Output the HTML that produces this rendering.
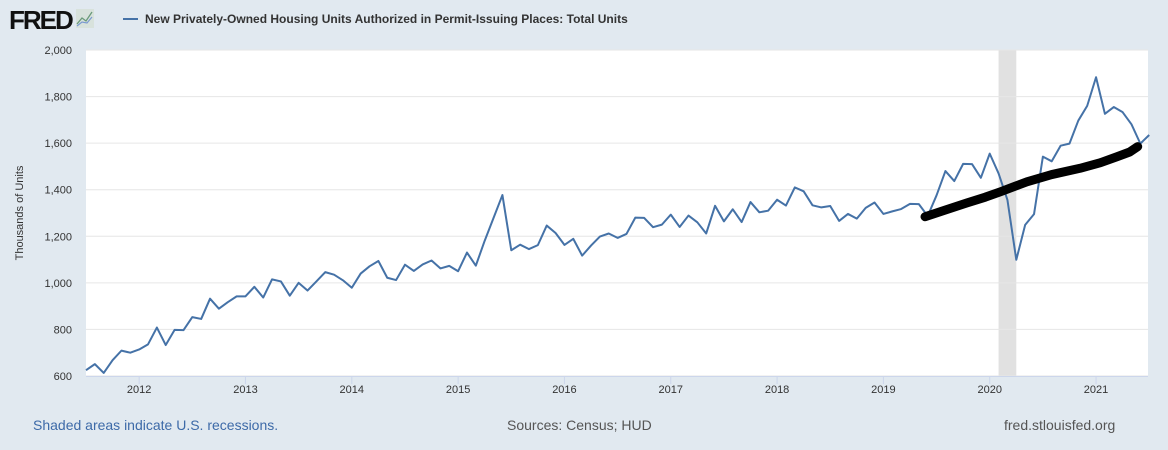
<!DOCTYPE html>
<html><head><meta charset="utf-8"><style>
body{margin:0;width:1168px;height:450px;background:#e1e9f0;font-family:"Liberation Sans",sans-serif;position:relative;overflow:hidden}
.t{position:absolute;white-space:nowrap}
</style></head><body>
<div class="t" style="left:9px;top:5px;font-size:26px;font-weight:bold;letter-spacing:-2px;color:#111">FRED</div>
<svg class="t" style="left:76px;top:9px" width="18" height="19"><rect x="0" y="0" width="18" height="19" fill="#d8e2dc"/><polyline points="1,15 6,9 10,12 16,3" fill="none" stroke="#6a9a7a" stroke-width="1.3"/><polyline points="1,17 6,13 11,14 16,8" fill="none" stroke="#7a9ad0" stroke-width="1.2"/></svg>
<div class="t" style="left:123px;top:18px;width:15px;height:2px;background:#4572a7"></div>
<div class="t" style="left:145px;top:12px;font-size:12px;font-weight:bold;color:#333">New Privately-Owned Housing Units Authorized in Permit-Issuing Places: Total Units</div>
<svg id="c" class="t" style="left:0;top:0" width="1168" height="450"></svg>
<div class="t" style="left:33px;top:417px;font-size:14px;color:#3d6aa8">Shaded areas indicate U.S. recessions.</div>
<div class="t" style="left:507px;top:417px;font-size:14px;color:#555">Sources: Census; HUD</div>
<div class="t" style="left:1004px;top:417px;font-size:14px;color:#555">fred.stlouisfed.org</div>
<script>
const yTicks=[600,800,1000,1200,1400,1600,1800,2000];
const xYears=[2012,2013,2014,2015,2016,2017,2018,2019,2020,2021];
const values=[625,651,613,668,709,700,714,736,808,733,798,797,853,845,932,889,917,942,942,983,937,1015,1006,945,1000,967,1006,1046,1035,1011,979,1040,1071,1094,1022,1012,1078,1051,1079,1096,1062,1073,1050,1130,1074,1181,1279,1377,1140,1164,1145,1162,1246,1214,1163,1189,1117,1160,1199,1212,1193,1210,1280,1279,1239,1250,1293,1240,1289,1260,1212,1331,1264,1316,1261,1347,1303,1310,1357,1332,1410,1393,1333,1324,1330,1266,1296,1276,1322,1345,1296,1307,1317,1339,1338,1287,1376,1480,1437,1511,1510,1451,1555,1470,1356,1099,1249,1295,1542,1522,1589,1598,1697,1760,1883,1726,1755,1733,1681,1598,1635];
const trendMonths=[94.7,97,99.4,101.5,103.2,104.8,106.2,109,112.2,114.5,116.4,117.8,118.7];
const trendValues=[1284,1313,1343,1368,1391,1414,1434,1465,1492,1516,1542,1562,1585];
const recessionStart=103.0, recessionEnd=105.0;
const X0=86,X1=1148,Y0=376,Y1=50,MPX=8.86;
const x=m=>X0+m*MPX;
const y=v=>Y0-(v-600)/1400*(Y0-Y1);
const yearX=yr=>x((yr-2011)*12-6);
const svg=document.getElementById('c');const NS='http://www.w3.org/2000/svg';
function mk(t,a){const e=document.createElementNS(NS,t);for(const k in a)e.setAttribute(k,a[k]);svg.appendChild(e);return e;}
let e=mk('rect',{x:X0,y:Y1,width:X1-X0,height:Y0-Y1,fill:'#fff'});


e=mk('rect',{x:x(recessionStart),y:Y1,width:x(recessionEnd)-x(recessionStart),height:Y0-Y1,fill:'#e1e1e1'});


yTicks.forEach(v=>{
 e=mk('line',{x1:X0,x2:X1,y1:y(v),y2:y(v),stroke:'#e6e6e6','stroke-width':1});
 
 
 e=mk('text',{x:72,y:y(v)+4,'text-anchor':'end','font-size':11,fill:'#333','font-family':'Liberation Sans'});
 e.textContent=v.toLocaleString('en-US');
 
 
});
e=mk('line',{x1:X0,x2:X1,y1:Y0+0.5,y2:Y0+0.5,stroke:'#ccd6eb','stroke-width':1});


xYears.forEach(yr=>{
 e=mk('line',{x1:yearX(yr),x2:yearX(yr),y1:Y0,y2:Y0+8,stroke:'#ccd6eb'});
 
 
 e=mk('text',{x:yearX(yr),y:Y0+17,'text-anchor':'middle','font-size':11,fill:'#333','font-family':'Liberation Sans'});
 e.textContent=yr;
 
 
});
e=mk('text',{x:0,y:0,transform:'translate(23,213) rotate(-90)','text-anchor':'middle','font-size':11,fill:'#333','font-family':'Liberation Sans'});
e.textContent='Thousands of Units';


e=mk('polyline',{points:values.map((v,i)=>x(i)+','+y(v)).join(' '),fill:'none',stroke:'#4572a7','stroke-width':2,'stroke-linejoin':'round'});


e=mk('polyline',{points:trendValues.map((v,i)=>x(trendMonths[i])+','+y(v)).join(' '),fill:'none',stroke:'#000','stroke-width':9,'stroke-linecap':'round','stroke-linejoin':'round'});


</script>
</body></html>
